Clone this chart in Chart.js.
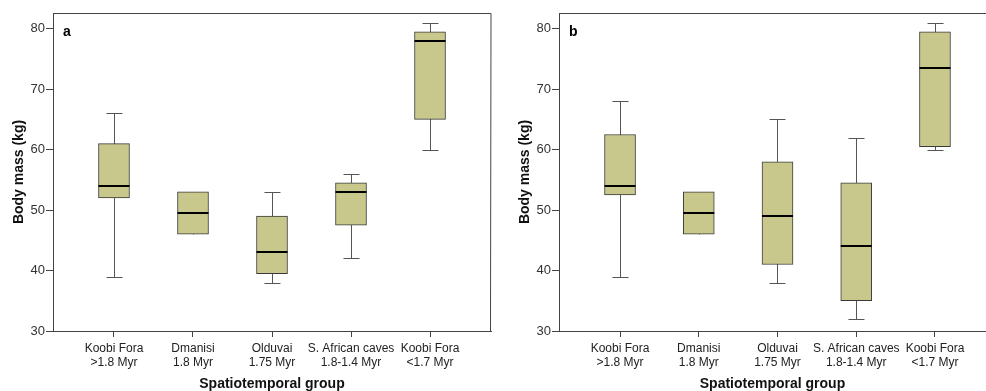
<!DOCTYPE html>
<html>
<head>
<meta charset="utf-8">
<script src="https://cdn.jsdelivr.net/npm/chart.js@4/dist/chart.umd.min.js"></script>
<style>
  body { margin: 0; background: #fff; }
  .row { display: flex; width: 986px; height: 391px; }
  .cell { width: 493px; height: 391px; position: relative; }
</style>
</head>
<body>
<div class="row">
  <div class="cell"><canvas id="panelA"></canvas></div>
  <div class="cell"><canvas id="panelB"></canvas></div>
</div>
<script>
// groups along the x axis, two lines each
const groups = [
  ['Koobi Fora', '>1.8 Myr'],
  ['Dmanisi', '1.8 Myr'],
  ['Olduvai', '1.75 Myr'],
  ['S. African caves', '1.8-1.4 Myr'],
  ['Koobi Fora', '<1.7 Myr']
];
const yTicks = [30, 40, 50, 60, 70, 80];

// panel a: whisker low, Q1, median, Q3, whisker high
const aLow    = [39, 46, 38, 42, 60];
const aQ1     = [52, 46, 39.5, 47.5, 65];
const aMedian = [54, 49.5, 43, 53, 78];
const aQ3     = [61, 53, 49, 54.5, 79.5];
const aHigh   = [66, 53, 53, 56, 81];

// panel b
const bLow    = [39, 46, 38, 32, 60];
const bQ1     = [52.5, 46, 41, 35, 60.5];
const bMedian = [54, 49.5, 49, 44, 73.5];
const bQ3     = [62.5, 53, 58, 54.5, 79.5];
const bHigh   = [68, 53, 65, 62, 81];

const font = 'Liberation Sans, Arial, sans-serif';
const boxFill = '#c8c88d';
const lineCol = '#444';

// whiskers, medians, frame, panel letter
const boxExtras = {
  id: 'boxExtras',
  beforeDatasetsDraw(chart, args, opts) {
    const {ctx, scales: {x, y}} = chart;
    ctx.save();
    ctx.strokeStyle = '#555';
    ctx.lineWidth = 1;
    opts.low.forEach((lo, i) => {
      const px = Math.round(x.getPixelForValue(i)) + 0.5;
      const yl = Math.round(y.getPixelForValue(lo)) + 0.5;
      const yh = Math.round(y.getPixelForValue(opts.high[i])) + 0.5;
      ctx.beginPath();
      ctx.moveTo(px, yl); ctx.lineTo(px, yh);
      if (lo < opts.q1[i]) { ctx.moveTo(px - 8, yl); ctx.lineTo(px + 8, yl); }
      if (opts.high[i] > opts.q3[i]) { ctx.moveTo(px - 8, yh); ctx.lineTo(px + 8, yh); }
      ctx.stroke();
    });
    ctx.restore();
  },
  afterDatasetsDraw(chart, args, opts) {
    const {ctx, chartArea: a, scales: {x, y}} = chart;
    ctx.save();
    ctx.strokeStyle = '#000';
    ctx.lineWidth = 2;
    opts.median.forEach((m, i) => {
      const px = x.getPixelForValue(i);
      const py = Math.round(y.getPixelForValue(m));
      ctx.beginPath();
      ctx.moveTo(px - 15.5, py); ctx.lineTo(px + 15.5, py);
      ctx.stroke();
    });
    // frame top (and right for panel a)
    ctx.strokeStyle = lineCol;
    ctx.lineWidth = 1;
    ctx.beginPath();
    ctx.moveTo(a.left, Math.round(a.top) + 0.5);
    ctx.lineTo(a.right, Math.round(a.top) + 0.5);
    if (opts.rightBorder) {
      ctx.lineTo(Math.round(a.right) - 0.5, a.bottom);
    }
    ctx.stroke();
    ctx.fillStyle = '#000';
    ctx.font = 'bold 14px ' + font;
    ctx.textBaseline = 'alphabetic';
    ctx.fillText(opts.letter, a.left + 10, a.top + 23);
    ctx.restore();
  }
};

function makePanel(id, letter, low, q1, median, q3, high, xMin, xMax, padLeft, padRight, rightBorder) {
  return new Chart(document.getElementById(id), {
    type: 'bar',
    data: {
      datasets: [{
        data: q1.map((v, i) => ({x: i, y: [v, q3[i]]})),
        backgroundColor: boxFill,
        borderColor: '#3a3a3a',
        borderWidth: 1,
        borderSkipped: false,
        barThickness: 31
      }]
    },
    options: {
      responsive: false,
      animation: false,
      events: [],
      layout: { padding: { left: padLeft, right: padRight, top: 13, bottom: 0 } },
      plugins: {
        legend: { display: false },
        tooltip: { enabled: false },
        boxExtras: { letter, low, q1, median, q3, high, rightBorder }
      },
      scales: {
        x: {
          type: 'linear',
          min: xMin,
          max: xMax,
          offset: false,
          afterBuildTicks: s => { s.ticks = groups.map((g, i) => ({value: i})); },
          afterFit: s => { s.height = 60; },
          ticks: {
            callback: v => groups[v],
            color: '#222',
            font: { family: font, size: 12 },
            padding: 4,
            maxRotation: 0,
            autoSkip: false
          },
          grid: { drawOnChartArea: false, offset: false, tickLength: 6, color: lineCol },
          border: { display: true, color: lineCol, width: 1 },
          title: {
            display: true,
            text: 'Spatiotemporal group',
            color: '#111',
            font: { family: font, size: 14, weight: 'bold' },
            padding: { top: 6, bottom: -2 }
          }
        },
        y: {
          min: 30,
          max: 82.6,
          afterBuildTicks: s => { s.ticks = yTicks.map(v => ({value: v})); },
          afterFit: s => { s.width = 42; },
          ticks: {
            color: '#333',
            font: { family: font, size: 13 },
            padding: 1
          },
          grid: { drawOnChartArea: false, tickLength: 7, color: lineCol },
          border: { display: true, color: lineCol, width: 1 },
          title: {
            display: true,
            text: 'Body mass (kg)',
            color: '#111',
            font: { family: font, size: 14, weight: 'bold' },
            padding: { top: 0, bottom: 0 }
          }
        }
      }
    },
    plugins: [boxExtras]
  });
}

for (const c of document.querySelectorAll('canvas')) { c.width = 493; c.height = 391; }

makePanel('panelA', 'a', aLow, aQ1, aMedian, aQ3, aHigh, -0.772, 4.772, 11, 2, true);
makePanel('panelB', 'b', bLow, bQ1, bMedian, bQ3, bHigh, -0.775, 4.648, 24, 0, false);
</script>
</body>
</html>
